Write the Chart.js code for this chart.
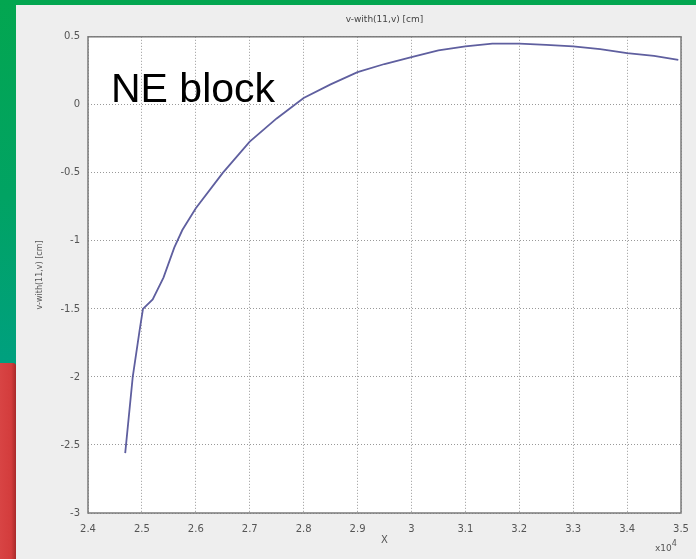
<!DOCTYPE html>
<html>
<head>
<meta charset="utf-8">
<script src="https://cdn.jsdelivr.net/npm/chart.js@4/dist/chart.umd.min.js"></script>
<style>
  html, body { margin:0; padding:0; }
  body { width:696px; height:559px; position:relative; overflow:hidden;
         background: linear-gradient(to bottom, #03a650 0%, #01a363 35%, #00a07f 65%, #009e8a 100%); }
  #red { position:absolute; left:0; top:363px; width:16px; height:196px;
         background: linear-gradient(to right, #d84444 0%, #d33c3c 70%, #a82a2a 100%); border-top-right-radius:3px; }
  #panel { position:absolute; left:16px; top:5px; width:680px; height:554px; background:#eeeeee; }
  #wrap { position:absolute; left:0; top:0; width:696px; height:559px; }
  #ne { position:absolute; left:111px; top:68px; font-family:"Liberation Sans", Arial, sans-serif;
        font-size:41px; line-height:41px; color:#000; white-space:nowrap; }
  #exp { position:absolute; left:655px; top:540px; font-family:"DejaVu Sans", sans-serif;
         font-size:9px; color:#555; white-space:nowrap; }
  #exp sup { font-size:8px; position:relative; top:-1px; }
</style>
</head>
<body>
<div id="red"></div>
<div id="panel"></div>
<div id="wrap"><canvas id="c" width="696" height="559"></canvas></div>
<div id="ne">NE block</div>
<div id="exp">x10<sup>4</sup></div>
<script>
const chartTitle = "v-with(11,v) [cm]";
const xTitle = "X";
const yTitle = "v-with(11,v) [cm]";
const xValues = [24690, 24830, 24960, 25020, 25200, 25400, 25600, 25750, 26000, 26500, 27000, 27500, 28000, 28500, 29000, 29500, 30000, 30500, 31000, 31500, 32000, 32500, 33000, 33500, 34000, 34500, 34950];
const vValues = [-2.56, -2.0, -1.65, -1.5, -1.43, -1.27, -1.05, -0.92, -0.76, -0.5, -0.27, -0.1, 0.05, 0.15, 0.24, 0.30, 0.35, 0.40, 0.43, 0.45, 0.45, 0.44, 0.43, 0.41, 0.38, 0.36, 0.33];
const xMin = 24000, xMax = 35000, xStep = 1000;
const yMin = -3, yMax = 0.5, yStep = 0.5;

const points = xValues.map((x, i) => ({x: x, y: vValues[i]}));

const frame = {
  id: 'frame',
  beforeDraw(chart) {
    const a = chart.chartArea, ctx = chart.ctx;
    ctx.save(); ctx.fillStyle = '#ffffff';
    ctx.fillRect(a.left, a.top, a.right - a.left, a.bottom - a.top);
    ctx.restore();
  },
  afterDraw(chart) {
    const a = chart.chartArea, ctx = chart.ctx;
    ctx.save(); ctx.strokeStyle = '#7a7a7a'; ctx.lineWidth = 1.5;
    ctx.strokeRect(a.left, a.top, a.right - a.left, a.bottom - a.top);
    ctx.restore();
  }
};

const tickFont = { family: '"DejaVu Sans", sans-serif', size: 10 };
new Chart(document.getElementById('c'), {
  type: 'line',
  data: { datasets: [{ data: points, borderColor: '#5f5f9f', borderWidth: 1.8, pointRadius: 0, tension: 0, fill: false }] },
  options: {
    responsive: false, animation: false,
    layout: { padding: { left: 0, right: 15, top: 0, bottom: 0 } },
    plugins: {
      legend: { display: false }, tooltip: { enabled: false },
      title: { display: true, text: chartTitle, fullSize: false, color: '#444',
               font: { family: '"DejaVu Sans", sans-serif', size: 9, weight: 'normal' },
               padding: { top: 14, bottom: 12 } }
    },
    scales: {
      x: { type: 'linear', min: xMin, max: xMax,
           afterFit(s) { s.height = 46; s.paddingRight = 0; s.paddingLeft = 0; },
           ticks: { stepSize: xStep, color: '#555', font: tickFont, padding: 10, maxRotation: 0,
                    callback: v => String(+(v / 10000).toFixed(1)) },
           grid: { color: '#999999', drawTicks: false, lineWidth: 1 },
           border: { display: false, dash: [1, 2] },
           title: { display: true, text: xTitle, color: '#555', font: { family: '"DejaVu Sans", sans-serif', size: 10 }, padding: { top: 0, bottom: 13 } } },
      y: { min: yMin, max: yMax,
           afterFit(s) { s.width = 88; s.paddingTop = 0; s.paddingBottom = 0; },
           ticks: { stepSize: yStep, color: '#555', font: tickFont, padding: 8,
                    callback: v => String(v) },
           grid: { color: '#999999', drawTicks: false, lineWidth: 1 },
           border: { display: false, dash: [1, 2] },
           title: { display: true, text: yTitle, color: '#555', font: { family: '"DejaVu Sans", sans-serif', size: 8 }, padding: { top: 35, bottom: 0 } } }
    }
  },
  plugins: [frame]
});
</script>
</body>
</html>
